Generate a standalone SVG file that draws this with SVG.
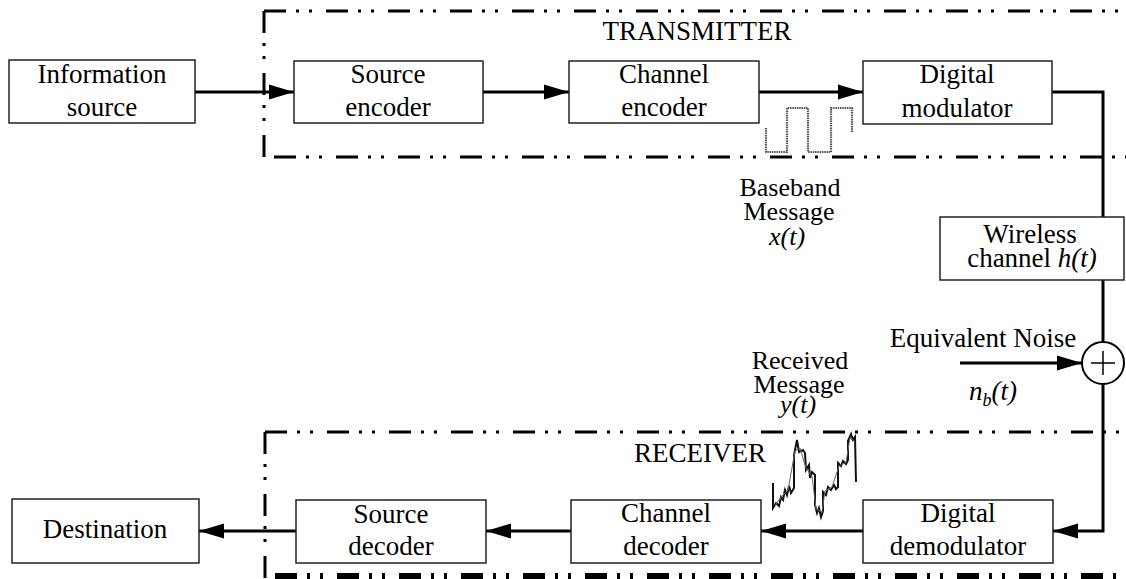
<svg xmlns="http://www.w3.org/2000/svg" width="1126" height="579" viewBox="0 0 1126 579">
<style>
.box{fill:#fff;stroke:#222;stroke-width:1.5}
.t{font-family:'Liberation Serif','DejaVu Serif','Times New Roman',serif;font-size:27px;fill:#000;text-anchor:middle}
.s{font-size:26px}
.i{font-style:italic}
.w{fill:none;stroke:#000;stroke-width:3}
.b{fill:none;stroke:#000;stroke-width:3;stroke-dasharray:22 10 3 10 3 14}
.sq{fill:none;stroke:#555;stroke-width:2.2;stroke-dasharray:1.5 0.8}
.nz{fill:none;stroke:#111;stroke-width:2;stroke-linejoin:miter}
</style>
<defs>
<marker id="ah" markerUnits="userSpaceOnUse" markerWidth="26" markerHeight="16" refX="25" refY="8" orient="auto">
<path d="M0,0.5 L25,8 L0,15.5 z" fill="#000"/>
</marker>
</defs>

<g id="boundaries">
<path class="b" d="M264,11 L1126,11"/>
<path class="b" d="M264,11 L264,157"/>
<path class="b" d="M274,157 L1126,157"/>
<path class="b" d="M265,432 L1126,432"/>
<path class="b" d="M265,432 L265,579"/>
<path class="b" d="M275,576 L1126,576" style="stroke-width:6"/>
</g>

<g id="connectors">
<line class="w" x1="195" y1="92" x2="294" y2="92" marker-end="url(#ah)"/>
<line class="w" x1="483" y1="92" x2="569" y2="92" marker-end="url(#ah)"/>
<line class="w" x1="759" y1="92" x2="863" y2="92" marker-end="url(#ah)"/>
<polyline class="w" points="1052,92 1103,92 1103,217"/>
<line class="w" x1="1103" y1="280" x2="1103" y2="342"/>
<line class="w" x1="960" y1="363" x2="1082" y2="363" marker-end="url(#ah)"/>
<polyline class="w" points="1103,384 1103,531 1053,531" marker-end="url(#ah)"/>
<line class="w" x1="863" y1="531" x2="761" y2="531" marker-end="url(#ah)"/>
<line class="w" x1="571" y1="531" x2="486" y2="531" marker-end="url(#ah)"/>
<line class="w" x1="296" y1="531" x2="199" y2="531" marker-end="url(#ah)"/>
</g>

<g id="info-source">
<rect class="box" x="9" y="60" width="186" height="63"/>
<text class="t" x="102" y="83">Information</text>
<text class="t" x="102" y="116">source</text>
</g>
<g id="source-encoder">
<rect class="box" x="294" y="61" width="189" height="62"/>
<text class="t" x="388" y="83">Source</text>
<text class="t" x="388" y="116">encoder</text>
</g>
<g id="channel-encoder">
<rect class="box" x="569" y="61" width="190" height="62"/>
<text class="t" x="664" y="83">Channel</text>
<text class="t" x="664" y="116">encoder</text>
</g>
<g id="digital-modulator">
<rect class="box" x="863" y="61" width="189" height="63"/>
<text class="t" x="957" y="83">Digital</text>
<text class="t" x="957" y="117">modulator</text>
</g>
<g id="wireless-channel">
<rect class="box" x="940" y="217" width="184" height="63"/>
<text class="t" x="1030" y="243">Wireless</text>
<text class="t" x="1032" y="267">channel <tspan class="i">h(t)</tspan></text>
</g>
<g id="adder">
<circle cx="1103" cy="363" r="21" fill="#fff" stroke="#000" stroke-width="2"/>
<path d="M1091,363 L1115,363 M1103,351 L1103,375" stroke="#000" stroke-width="1.5"/>
</g>
<g id="digital-demodulator">
<rect class="box" x="863" y="500" width="190" height="63"/>
<text class="t" x="958" y="522">Digital</text>
<text class="t" x="958" y="555">demodulator</text>
</g>
<g id="channel-decoder">
<rect class="box" x="571" y="500" width="190" height="63"/>
<text class="t" x="666" y="522">Channel</text>
<text class="t" x="666" y="555">decoder</text>
</g>
<g id="source-decoder">
<rect class="box" x="296" y="500" width="190" height="63"/>
<text class="t" x="391" y="523">Source</text>
<text class="t" x="391" y="555">decoder</text>
</g>
<g id="destination">
<rect class="box" x="12" y="499" width="187" height="64"/>
<text class="t" x="105" y="538">Destination</text>
</g>

<g id="labels">
<text class="t" x="697" y="40">TRANSMITTER</text>
<text class="t" x="700" y="462">RECEIVER</text>
<text class="t s" x="790" y="196">Baseband</text>
<text class="t s" x="789" y="220">Message</text>
<text class="t s i" x="787" y="245">x(t)</text>
<text class="t" x="983" y="347">Equivalent Noise</text>
<text class="t i" x="993" y="400">n<tspan font-size="18" dy="6">b</tspan><tspan dy="-6">(t)</tspan></text>
<text class="t s" x="800" y="369">Received</text>
<text class="t s" x="799" y="393">Message</text>
<text class="t s i" x="798" y="413">y(t)</text>
</g>

<g id="waveforms">
<polyline class="sq" points="766,128 766,152 787,152 787,108 808,108 808,152 831,152 831,108 852,108 852,132"/>
<polyline class="nz" points="773,483 773,508 776,503 779,506 781,497 783,500 785,490 787,495 789,486 791,493 794,488 794,455 797,440 799,452 803,450 805,453 806,470 809,465 810,478 812,472 815,475 815,505 817,513 819,508 821,517 823,511 823,492 826,495 828,487 831,490 834,485 836,489 838,487 838,463 841,466 843,461 846,464 848,460 848,441 851,434 853,440 855,437 856,482"/>
<polyline fill="none" stroke="#666" stroke-width="1" points="775,505 779,500 784,494 788,490 795,451 800,448 806,468 812,476 816,509 822,512 825,491 832,487 839,466 846,462 850,438 855,442"/>
</g>
</svg>
